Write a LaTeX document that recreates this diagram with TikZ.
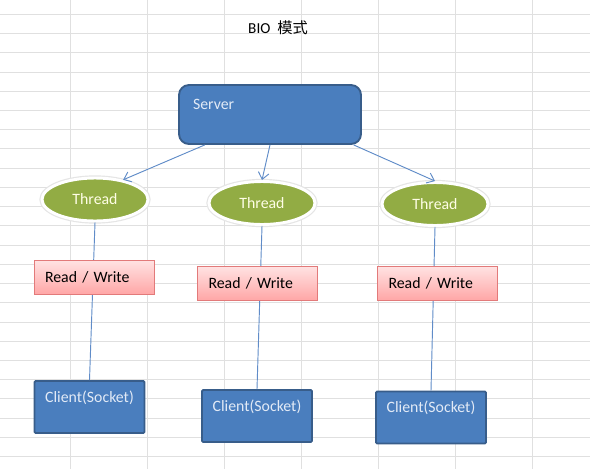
\documentclass[tikz,border=0pt]{standalone}
\usepackage{fontspec}
\setmainfont{Carlito}
\newfontfamily\cjk{Noto Sans CJK SC}
\usepackage{xcolor}
\usetikzlibrary{shapes.geometric, arrows.meta}
\definecolor{xlblue}{RGB}{74,126,190}
\definecolor{xlborder}{RGB}{56,93,138}
\definecolor{xlgreen}{RGB}{146,172,68}
\definecolor{xlline}{RGB}{96,140,200}
\definecolor{xlpinktop}{RGB}{255,226,226}
\definecolor{xlpinkbot}{RGB}{255,166,166}
\definecolor{xlred}{RGB}{226,122,122}
\definecolor{boxtext}{RGB}{226,234,246}
\definecolor{gridgray}{RGB}{224,224,224}
\newlength{\unitpx}
\setlength{\unitpx}{0.03cm}
\tikzset{
    server/.style={rectangle, draw=xlborder, fill=xlblue, line width=1.6pt, rounded corners=3mm, minimum width=182\unitpx, text width=154\unitpx, align=left, inner xsep=14\unitpx, inner ysep=0pt, text height=24\unitpx, text depth=35\unitpx, text=boxtext, font=\fontsize{13.5}{16}\selectfont},
    client/.style={rectangle, draw=xlborder, fill=xlblue, line width=1.6pt, rounded corners=1pt, text width=110\unitpx, align=center, inner sep=0pt, text height=21\unitpx, text depth=31\unitpx, text=boxtext, font=\fontsize{13.5}{16}\selectfont},
    thread/.style={ellipse, fill=xlgreen, draw=white, line width=2.5pt, preaction={draw=gray!20, line width=4.5pt}, minimum width=106\unitpx, minimum height=43\unitpx, inner sep=0pt, text=white!90!yellow, font=\fontsize{13.5}{16}\selectfont},
    rwbox/.style={rectangle, draw=xlred, line width=0.8pt, top color=xlpinktop, bottom color=xlpinkbot, text width=98\unitpx, align=left, inner xsep=11\unitpx, minimum height=34\unitpx, font=\fontsize{13.5}{16}\selectfont},
    conn/.style={draw=xlline, line width=0.8pt},
    arrow/.style={conn, -{Straight Barb[length=2mm, width=3.2mm]}},
    gridline/.style={draw=gridgray, line width=0.8pt},
}
\begin{document}
\begin{tikzpicture}[x=0.03cm, y=-0.03cm]
    \useasboundingbox (0,0) rectangle (590,469);
    \fill[white] (0,0) rectangle (590,469);
    % sheet grid
    \foreach \gx in {70,147,224,301,378,455,532}
        \draw[gridline] (\gx,0) -- (\gx,469);
    \foreach \k in {0,...,23}
        \draw[gridline] (0,{14.3+19.23*\k}) -- (590,{14.3+19.23*\k});

    \node[font=\fontsize{13}{16}\selectfont] (title) at (278,28) {BIO \ {\cjk 模式}};

    \node[server] (srv) at (270,114.5) {Server};

    \node[thread] (th1) at (95,199.5) {Thread};
    \node[thread] (th2) at (262,203) {Thread};
    \node[thread] (th3) at (435,204) {Thread};

    \node[client] (cl1) at (89.5,407) {Client(Socket)};
    \node[client] (cl2) at (257,416) {Client(Socket)};
    \node[client] (cl3) at (431,417.5) {Client(Socket)};

    \draw[arrow] (srv.205) -- (th1.35);
    \draw[arrow] (srv.south) -- (th2.north);
    \draw[arrow] (srv.-20) -- (th3.north);

    \draw[conn] (th1.south) -- (cl1.north);
    \draw[conn] (th2.south) -- (cl2.north);
    \draw[conn] (th3.south) -- (cl3.north);

    \node[rwbox] (rw1) at (94,277.5) {Read / Write};
    \node[rwbox] (rw2) at (257.5,283.5) {Read / Write};
    \node[rwbox] (rw3) at (437.5,283.5) {Read / Write};
\end{tikzpicture}
\end{document}
